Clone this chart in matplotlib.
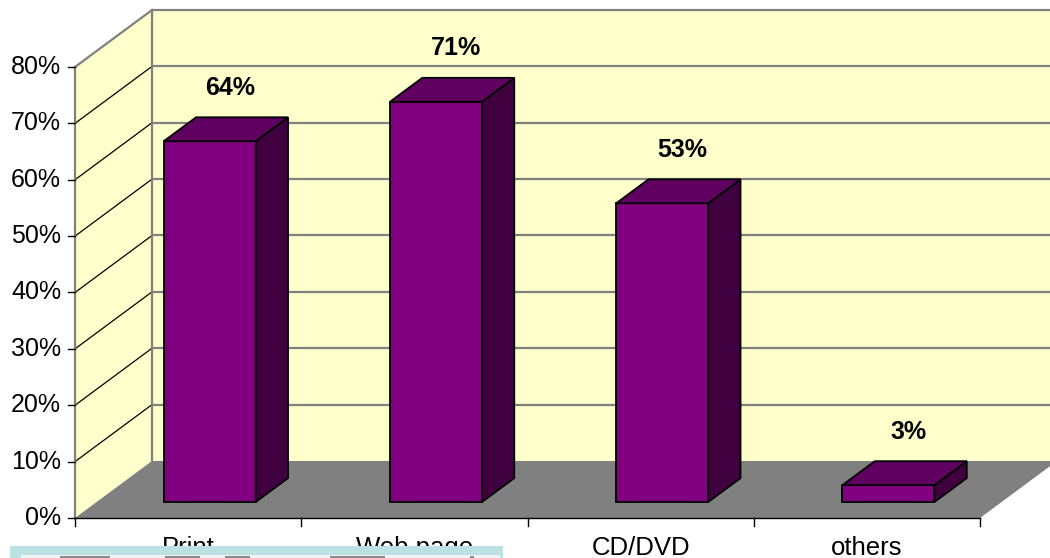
import matplotlib
matplotlib.use("Agg")
import matplotlib.pyplot as plt
from matplotlib.patches import Polygon, Rectangle

plt.rcParams['font.family'] = ['Liberation Sans', 'DejaVu Sans']

# ---- data ----
categories = ["Print", "Web page", "CD/DVD", "others"]
values = [64, 71, 53, 3]
value_labels = ["64%", "71%", "53%", "3%"]
y_ticks = [0, 10, 20, 30, 40, 50, 60, 70, 80]
y_tick_labels = ["0%", "10%", "20%", "30%", "40%", "50%", "60%", "70%", "80%"]

# ---- styling / geometry ----
W, H = 1050, 558
cat_px = 226.25
val_px = 5.6375
x0_px, y0_px = 75, 518
DX = 77 / cat_px          # depth offset in category units
DY = 57 / val_px          # depth offset in value units
f1, f2 = 0.28, 0.70       # bar front/back depth fraction
bw = 0.4066               # bar width (categories)
ymax = 80

wall_c = "#FFFFCC"
floor_c = "#808080"
grid_c = "#808080"
front_c = "#800080"
top_c = "#600060"
side_c = "#400040"

fig = plt.figure(figsize=(W / 100, H / 100), dpi=100)
ax = fig.add_axes([0, 0, 1, 1])
ax.set_axis_off()
xl = -0.5 - x0_px / cat_px
xr = -0.5 + (W - x0_px) / cat_px
yb = -(H - y0_px) / val_px
yt = y0_px / val_px
ax.set_xlim(xl, xr)
ax.set_ylim(yb, yt)

n = len(categories)
L = -0.5
R = n - 0.5

# walls and floor
ax.add_patch(Polygon([(L + DX, DY), (L + DX, ymax + DY), (xr + 1, ymax + DY), (xr + 1, DY)],
                     closed=True, fc=wall_c, ec="none", zorder=1))
ax.add_patch(Polygon([(L, 0), (L, ymax), (L + DX, ymax + DY), (L + DX, DY)],
                     closed=True, fc=wall_c, ec="none", zorder=1))
ax.add_patch(Polygon([(L, 0), (R, 0), (R + DX, DY), (L + DX, DY)],
                     closed=True, fc=floor_c, ec="none", zorder=2))

# gridlines
for v in y_ticks:
    if v > 0:
        ax.plot([L + DX, xr + 1], [v + DY, v + DY], color=grid_c, lw=1.6, zorder=1.5,
                solid_capstyle="butt")
        ax.plot([L, L + DX], [v, v + DY], color="black" if v < ymax else grid_c,
                lw=0.9 if v < ymax else 1.6, zorder=1.5)
# wall edges
ax.plot([L + DX, L + DX], [DY, ymax + DY], color=grid_c, lw=1.6, zorder=1.6)
ax.plot([L, L], [0, ymax], color=grid_c, lw=1.6, zorder=3)

# y ticks & labels
tick_len = 7 / cat_px
for v, lab in zip(y_ticks, y_tick_labels):
    ax.plot([L - tick_len, L], [v, v], color="black", lw=1.0, zorder=3)
    ax.text(L - 14 / cat_px, v, lab, ha="right", va="center", fontsize=18, zorder=4)

# x axis line and ticks
ax.plot([L, R], [0, 0], color="black", lw=1.0, zorder=3)
for i in range(n + 1):
    xb = L + i
    ax.plot([xb, xb], [0, -8 / val_px], color="black", lw=1.0, zorder=3)

# bars
for i, v in enumerate(values):
    cx = i + f1 * DX
    x1, x2 = cx - bw / 2, cx + bw / 2
    yb1 = f1 * DY
    ddx, ddy = (f2 - f1) * DX, (f2 - f1) * DY
    front = [(x1, yb1), (x2, yb1), (x2, yb1 + v), (x1, yb1 + v)]
    side = [(x2, yb1), (x2 + ddx, yb1 + ddy), (x2 + ddx, yb1 + ddy + v), (x2, yb1 + v)]
    top = [(x1, yb1 + v), (x2, yb1 + v), (x2 + ddx, yb1 + v + ddy), (x1 + ddx, yb1 + v + ddy)]
    for poly, c in ((front, front_c), (side, side_c), (top, top_c)):
        ax.add_patch(Polygon(poly, closed=True, fc=c, ec="black", lw=1.3,
                             joinstyle="miter", zorder=5 + i))
    ax.text(i + 0.185, v + 12.3, value_labels[i], ha="center", va="center",
            fontsize=18, fontweight="bold", zorder=10)

# category labels
for i, c in enumerate(categories):
    ax.text(i, -(555 - y0_px) / val_px, c, ha="center", va="baseline", fontsize=18.5, zorder=4)

# overlay box at bottom-left (partially covering labels)
fig.patches.append(Rectangle((10 / W, 0), 493 / W, 12 / H, transform=fig.transFigure,
                             fc="#BDE0E3", ec="none", zorder=20))
fig.patches.append(Rectangle((21 / W, 0), 479 / W, 3 / H, transform=fig.transFigure,
                             fc="#EEF3F3", ec="none", zorder=21))
for a, b in [(60, 50), (165, 35), (225, 25), (330, 55), (470, 4)]:
    fig.patches.append(Rectangle((a / W, 0), b / W, 2 / H, transform=fig.transFigure,
                                 fc="#8A8A8A", ec="none", zorder=22))

fig.savefig("out.png", dpi=100)
